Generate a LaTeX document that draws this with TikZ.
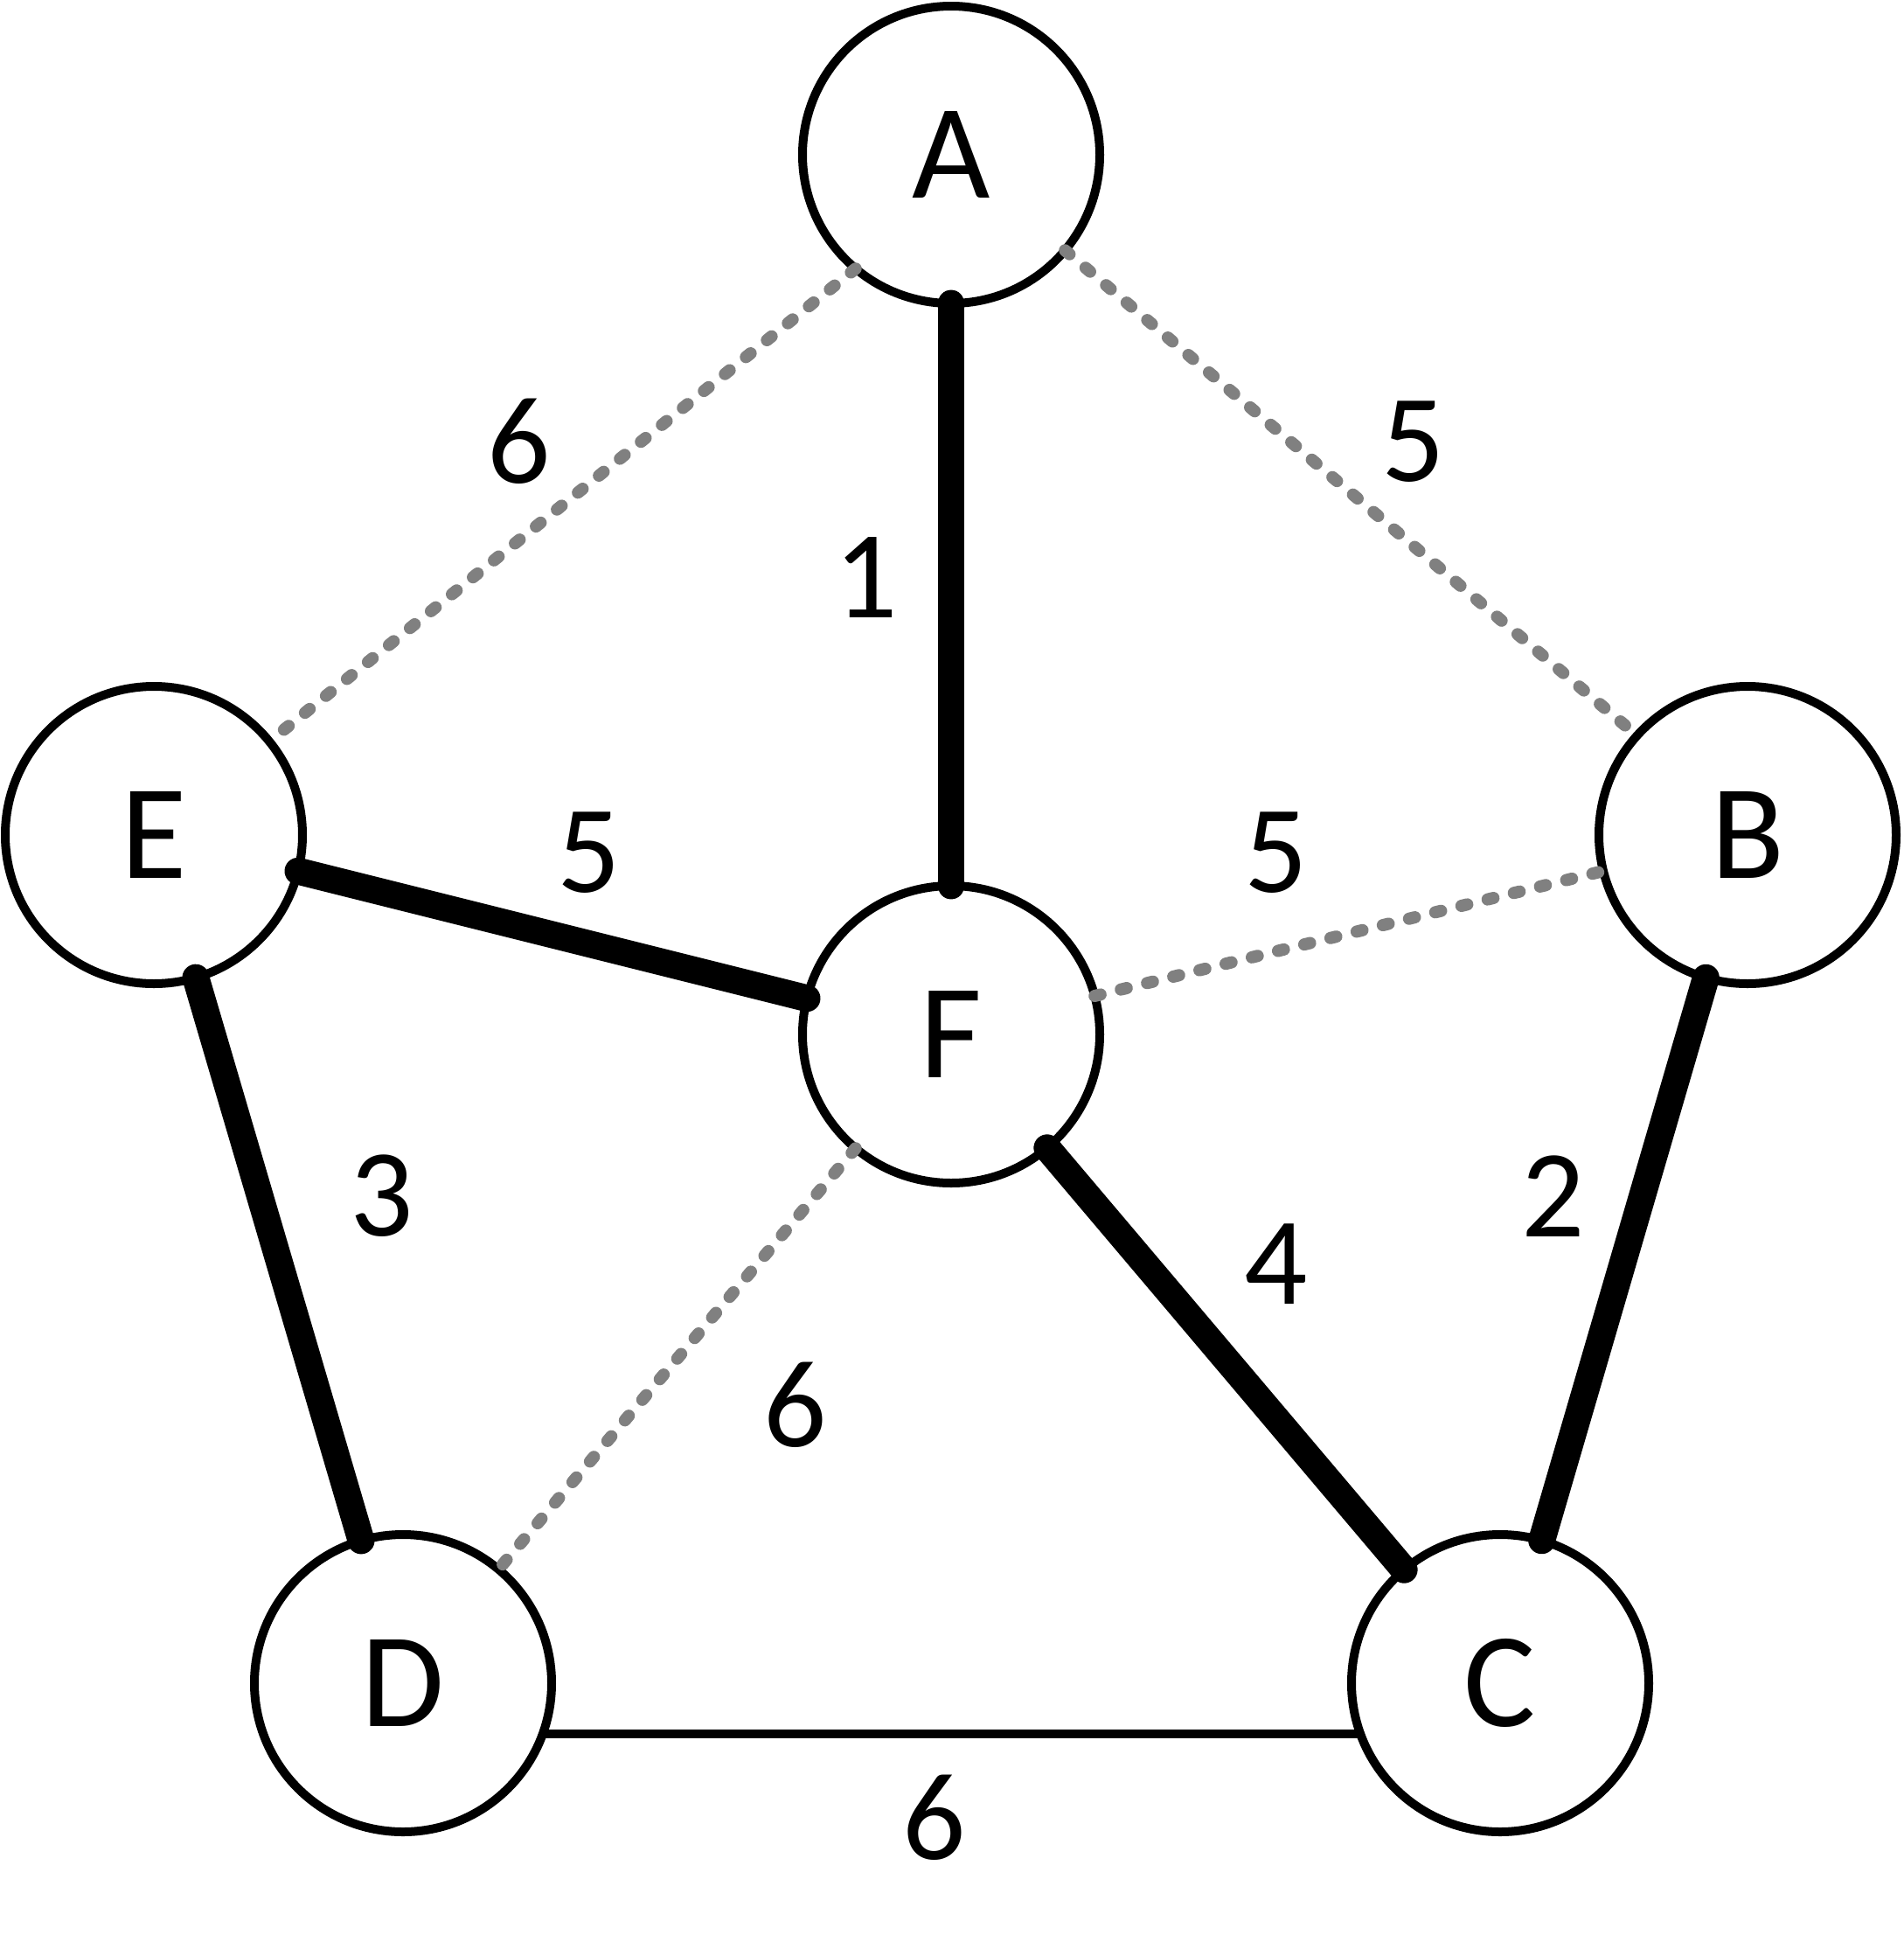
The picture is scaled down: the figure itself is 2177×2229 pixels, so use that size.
\documentclass[tikz,border=0pt]{standalone}
\usepackage{fontspec}
\setmainfont{Carlito}
\begin{document}
\begin{tikzpicture}[x=0.35pt,y=-0.35pt,
  vertex/.style={circle,draw=black,line width=3.5pt,minimum size=119pt,inner sep=0pt,outer sep=0pt,fill=white,font=\fontsize{54}{54}\selectfont},
  treeedge/.style={line width=10.8pt,line cap=round,black},
  otheredge/.style={line width=4.9pt,line cap=round,gray,dash pattern=on 2.4pt off 8.4pt},
  plainedge/.style={line width=3.5pt,black},
  weight/.style={inner sep=0pt,font=\fontsize{50}{50}\selectfont}]
\useasboundingbox (0,0) rectangle (2177,2229);
\node[vertex] (A) at (1088,177) {A};
\node[vertex] (B) at (1999,955) {B};
\node[vertex] (C) at (1716,1925) {C};
\node[vertex] (D) at (461,1925) {D};
\node[vertex] (E) at (176,955) {E};
\node[vertex] (F) at (1088,1183) {F};
% dotted (non-tree) edges
\draw[otheredge] (A.230) -- (E.39);
\draw[otheredge] (A.320) -- (B.138);
\draw[otheredge] (F.15.5) -- (B.194.5);
\draw[otheredge] (F.230) -- (D.50);
% plain edge
\draw[plainedge] (D.340) -- (C.200);
% tree edges
\draw[treeedge] (A) -- (F);
\draw[treeedge] (E) -- (F);
\draw[treeedge] (E) -- (D);
\draw[treeedge] (F) -- (C);
\draw[treeedge] (B) -- (C);
% weights
\node[weight] (w1) at (991,661) {1};
\node[weight] (w2) at (594,505) {6};
\node[weight] (w3) at (1617,505) {5};
\node[weight] (w4) at (674,975) {5};
\node[weight] (w5) at (1460,975) {5};
\node[weight] (w6) at (437,1368) {3};
\node[weight] (w7) at (1460,1446) {4};
\node[weight] (w8) at (1777,1368) {2};
\node[weight] (w9) at (910,1607) {6};
\node[weight] (w10) at (1069,2079) {6};
\end{tikzpicture}
\end{document}
